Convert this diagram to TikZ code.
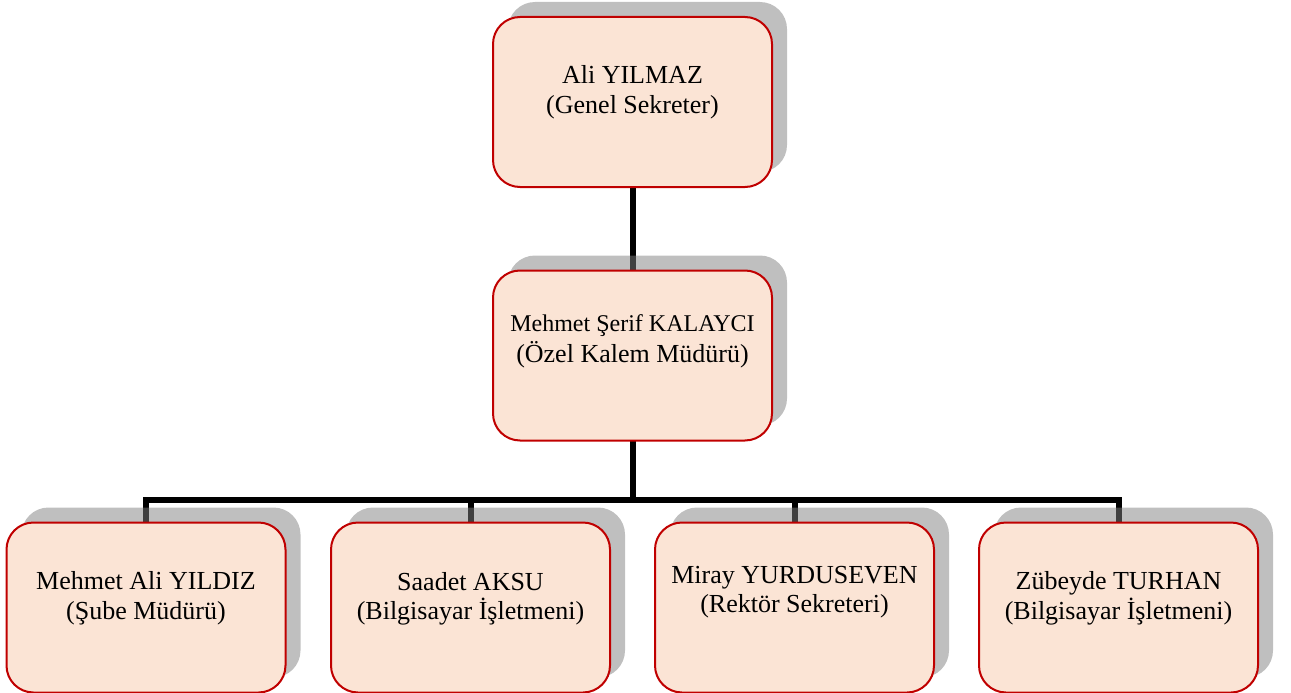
\documentclass[tikz,border=0pt]{standalone}
\usepackage{fontspec}
\setmainfont{Liberation Serif}
\usetikzlibrary{backgrounds}
\definecolor{boxfill}{HTML}{FBE4D5}
\definecolor{boxline}{HTML}{C00000}
\tikzset{
  orgbox/.style={draw=boxline, line width=2pt, fill=boxfill, rounded corners=27pt,
    minimum width=279pt, minimum height=170pt, inner sep=0pt, outer sep=0pt},
  orgshadow/.style={fill=black!50, fill opacity=0.5, rounded corners=27pt},
  orgtext/.style={anchor=north, inner sep=0pt, align=center, font=\fontsize{26}{30}\selectfont},
  conn/.style={line width=6pt, black}
}
\begin{document}
\begin{tikzpicture}[x=1pt,y=-1pt]
\useasboundingbox (0,0) rectangle (1291,693);
\node[orgbox] (top) at (632.5,102) {};
\node[orgbox] (mid) at (632.5,355.5) {};
\node[orgbox] (b1) at (146,607.5) {};
\node[orgbox] (b2) at (470.5,607.5) {};
\node[orgbox] (b3) at (794.5,607.5) {};
\node[orgbox] (b4) at (1118.5,607.5) {};
\node[orgtext] (ttop) at ([yshift=-48pt]top.north) {Ali YILMAZ\\(Genel Sekreter)};
\node[orgtext, font=\fontsize{26}{31}\selectfont] (tmid) at ([yshift=-44pt]mid.north) {{\fontsize{24}{31}\selectfont Mehmet Şerif KALAYCI}\\(Özel Kalem Müdürü)};
\node[orgtext] (tb1) at ([yshift=-48.7pt]b1.north) {Mehmet Ali YILDIZ\\(Şube Müdürü)};
\node[orgtext, font=\fontsize{26}{29.5}\selectfont] (tb2) at ([yshift=-49.7pt]b2.north) {Saadet AKSU\\(Bilgisayar İşletmeni)};
\node[orgtext, font=\fontsize{26}{29}\selectfont] (tb3) at ([yshift=-44pt]b3.north) {Miray YURDUSEVEN\\(Rektör Sekreteri)};
\node[orgtext] (tb4) at ([yshift=-49pt]b4.north) {Zübeyde TURHAN\\(Bilgisayar İşletmeni)};
\coordinate (bar) at (632.5,500);
\begin{scope}[on background layer]
\draw[conn] (top.south) -- (mid.north);
\draw[conn] (mid.south) -- (bar);
\draw[conn] (b1.north) -- (b1.north |- bar) -- (b4.north |- bar) -- (b4.north);
\draw[conn] (b2.north) -- (b2.north |- bar);
\draw[conn] (b3.north) -- (b3.north |- bar);
\foreach \n in {top,mid,b1,b2,b3,b4}
  \fill[orgshadow] ([shift={(15pt,15pt)}]\n.south west) rectangle ([shift={(15pt,15pt)}]\n.north east);
\end{scope}
\end{tikzpicture}
\end{document}
